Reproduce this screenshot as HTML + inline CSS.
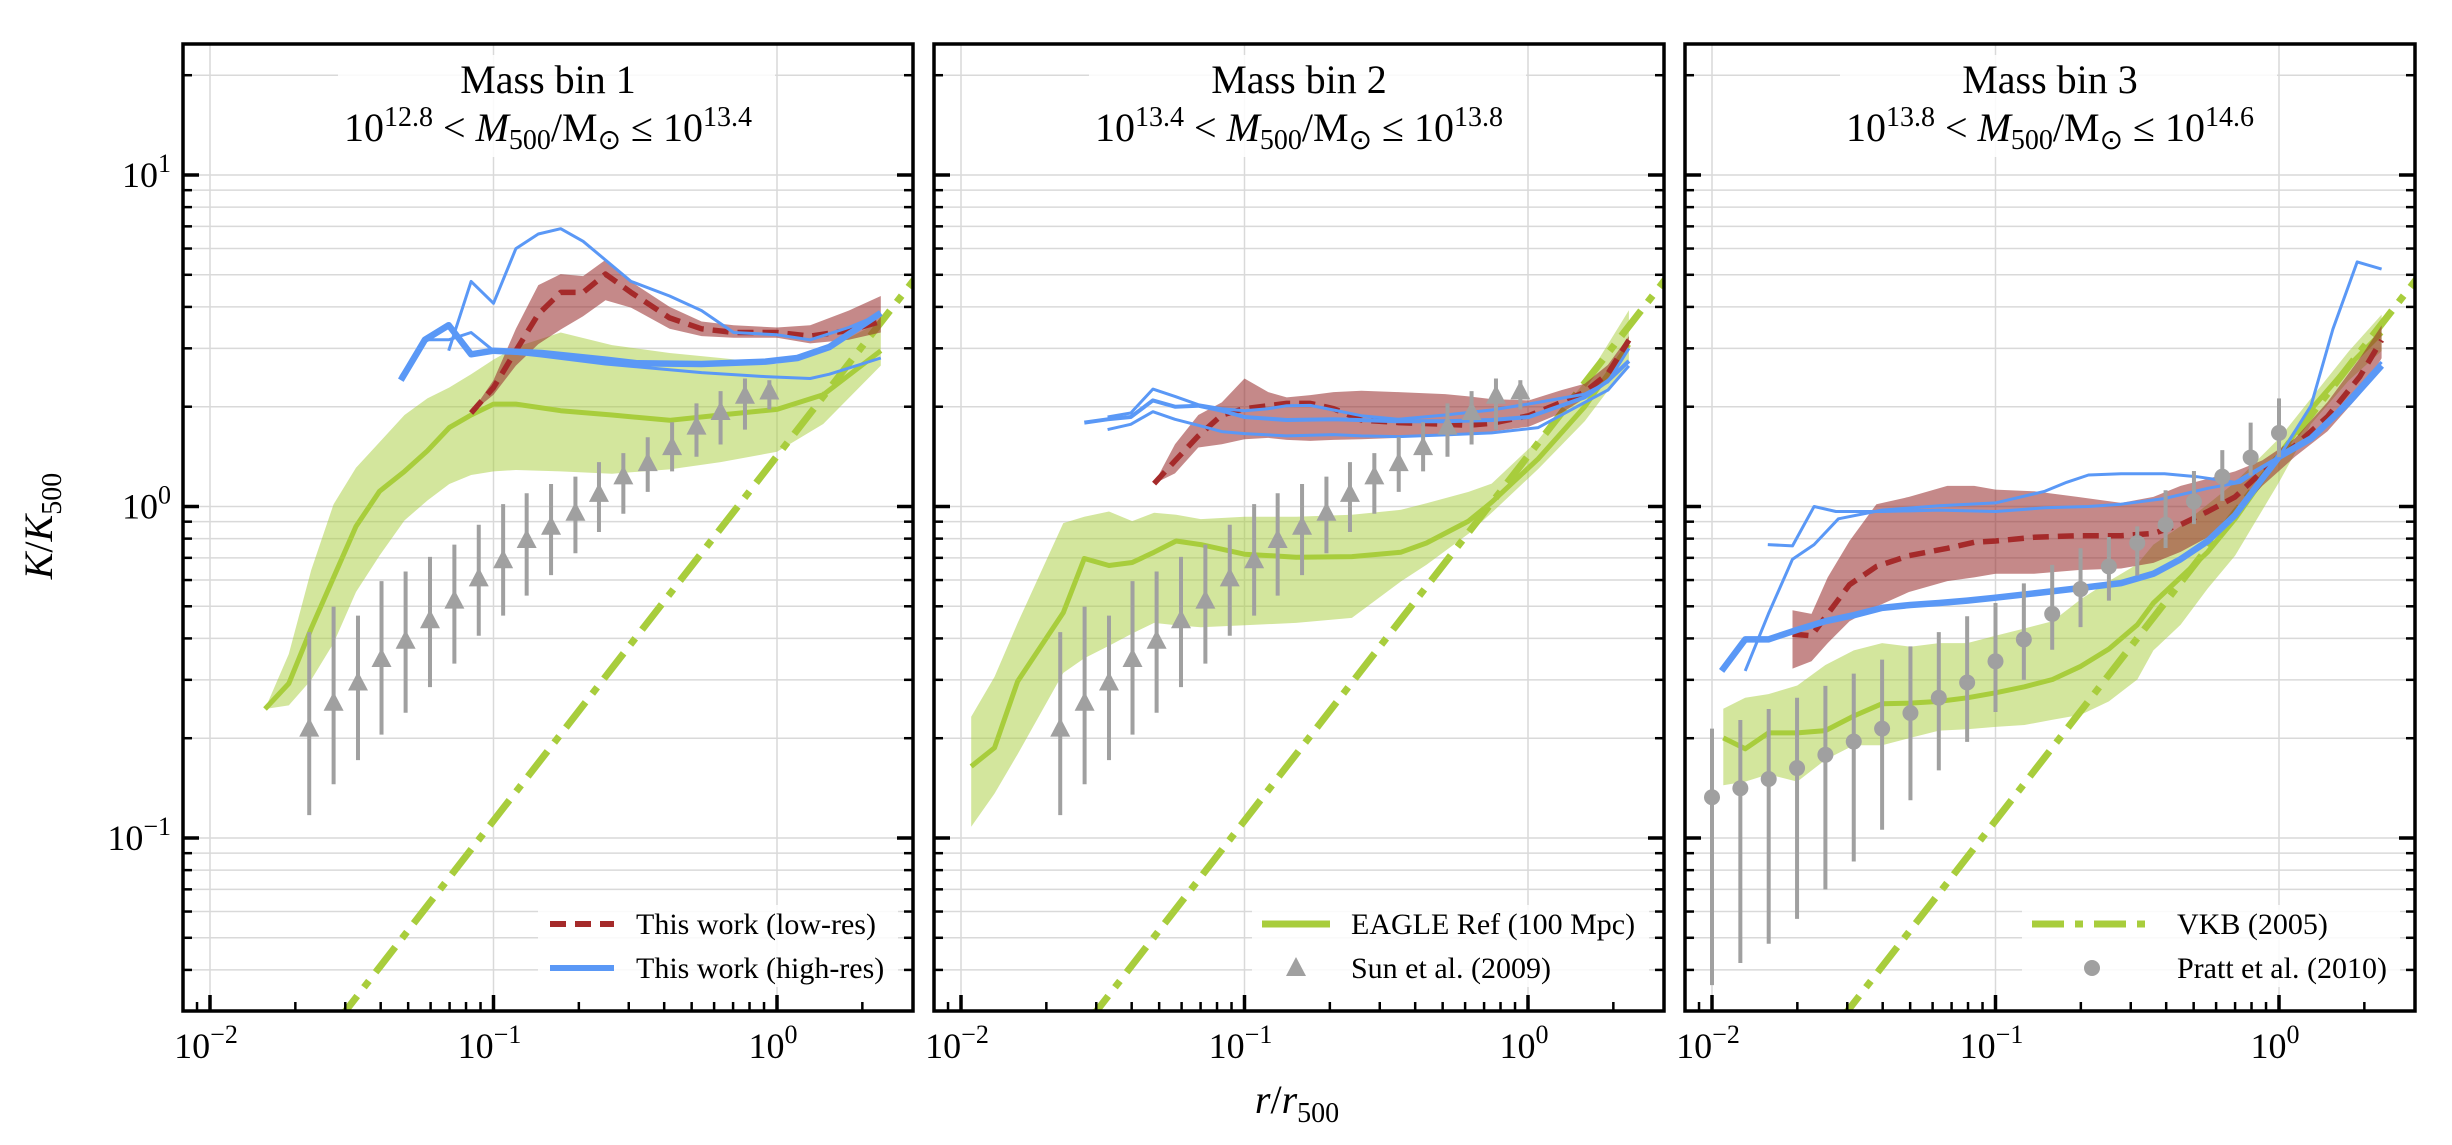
<!DOCTYPE html>
<html><head><meta charset="utf-8"><style>
html,body{margin:0;padding:0;background:#fff;width:2452px;height:1145px;overflow:hidden;}
svg{display:block;font-family:"Liberation Serif",serif;}
</style></head><body>
<svg id="fig" xmlns="http://www.w3.org/2000/svg" width="2452" height="1145" viewBox="0 0 2452 1145">
<rect width="2452" height="1145" fill="#fff"/>
<text transform="translate(52,526) rotate(-90)" text-anchor="middle" font-size="40"><tspan font-style="italic">K</tspan>/<tspan font-style="italic">K</tspan><tspan font-size="28" dy="9">500</tspan></text>
<text x="1297" y="1113" text-anchor="middle" font-size="40"><tspan font-style="italic">r</tspan>/<tspan font-style="italic">r</tspan><tspan font-size="28" dy="9">500</tspan></text>
</svg>
<script>
// ---------- data (log10 r/r500, log10 K/K500) ----------
const sunLogR=[-1.65,-1.564,-1.478,-1.395,-1.31,-1.224,-1.138,-1.052,-0.966,-0.883,-0.797,-0.711,-0.628,-0.542,-0.456,-0.37,-0.284,-0.199,-0.113,-0.027];
const sunLogK=[-0.673,-0.595,-0.534,-0.463,-0.408,-0.346,-0.287,-0.22,-0.165,-0.104,-0.064,-0.022,0.035,0.088,0.128,0.176,0.238,0.282,0.331,0.344];
const sunLogHi=[-0.379,-0.302,-0.329,-0.225,-0.196,-0.152,-0.115,-0.055,0.007,0.040,0.068,0.090,0.134,0.161,0.209,0.254,0.311,0.348,0.386,0.381];
const sunLogLo=[-0.931,-0.838,-0.765,-0.688,-0.622,-0.545,-0.474,-0.390,-0.329,-0.269,-0.207,-0.141,-0.077,-0.022,0.044,0.106,0.150,0.187,0.232,0.293];

const prattLogR=[-2,-1.9,-1.8,-1.7,-1.6,-1.5,-1.4,-1.3,-1.2,-1.1,-1,-0.9,-0.8,-0.7,-0.6,-0.5,-0.4,-0.3,-0.2,-0.1,0];
const prattLogK=[-0.877,-0.85,-0.822,-0.789,-0.749,-0.709,-0.67,-0.623,-0.577,-0.531,-0.467,-0.401,-0.324,-0.249,-0.181,-0.110,-0.055,0.015,0.09,0.148,0.222];
const prattLogHi=[-0.67,-0.644,-0.611,-0.577,-0.541,-0.504,-0.462,-0.422,-0.379,-0.331,-0.291,-0.232,-0.176,-0.126,-0.092,-0.06,0.049,0.107,0.170,0.253,0.326];
const prattLogLo=[-1.444,-1.377,-1.319,-1.244,-1.155,-1.071,-0.975,-0.886,-0.796,-0.71,-0.62,-0.523,-0.432,-0.364,-0.284,-0.208,-0.125,-0.053,0.017,0.093,0.149];

const vkbNorm=1.42, vkbSlope=1.1;

// panel 1
const p1GreenR=[-1.806,-1.722,-1.643,-1.564,-1.485,-1.402,-1.314,-1.233,-1.156,-1.079,-1.0,-0.921,-0.763,-0.582,-0.379,-0.199,0,0.163,0.366];
const p1GreenK=[-0.611,-0.534,-0.368,-0.214,-0.060,0.046,0.106,0.168,0.238,0.276,0.309,0.309,0.289,0.276,0.260,0.276,0.293,0.337,0.470];
const p1GreenHi=[-0.611,-0.445,-0.192,0.007,0.117,0.194,0.276,0.326,0.359,0.399,0.443,0.481,0.525,0.487,0.463,0.448,0.430,0.470,0.558];
const p1GreenLo=[-0.611,-0.600,-0.523,-0.412,-0.258,-0.148,-0.042,0.018,0.068,0.095,0.106,0.110,0.106,0.099,0.112,0.134,0.165,0.249,0.425];
const p1RedR=[-1.079,-1,-0.921,-0.842,-0.763,-0.684,-0.605,-0.515,-0.379,-0.266,-0.153,0,0.117,0.253,0.366];
const p1RedK=[0.282,0.359,0.470,0.580,0.646,0.646,0.701,0.646,0.569,0.536,0.525,0.525,0.514,0.531,0.558];
const p1RedHi=[0.282,0.381,0.536,0.668,0.701,0.695,0.744,0.678,0.602,0.558,0.547,0.540,0.547,0.591,0.635];
const p1RedLo=[0.282,0.337,0.425,0.490,0.534,0.574,0.622,0.600,0.536,0.514,0.509,0.509,0.492,0.503,0.525];
const p1BlueThickR=[-1.327,-1.242,-1.158,-1.079,-1,-0.831,-0.605,-0.492,-0.266,-0.041,0.072,0.185,0.366];
const p1BlueThickK=[0.381,0.503,0.547,0.459,0.470,0.463,0.443,0.432,0.430,0.437,0.448,0.481,0.584];
const p1BlueAR=[-1.158,-1.079,-1,-0.921,-0.842,-0.763,-0.684,-0.515,-0.379,-0.266,-0.153,0,0.117,0.253,0.366];
const p1BlueAK=[0.470,0.679,0.613,0.778,0.822,0.838,0.800,0.679,0.635,0.591,0.525,0.518,0.503,0.540,0.580];
const p1BlueBR=[-1.327,-1.242,-1.158,-1.079,-1,-0.831,-0.605,-0.266,-0.041,0.117,0.185,0.366];
const p1BlueBK=[0.392,0.503,0.503,0.525,0.470,0.454,0.430,0.404,0.392,0.386,0.399,0.448];

// panel 2
const p2GreenR=[-1.964,-1.882,-1.8,-1.639,-1.565,-1.478,-1.396,-1.319,-1.241,-1.154,-1.0,-0.818,-0.621,-0.448,-0.358,-0.210,-0.128,0.036,0.2,0.356];
const p2GreenK=[-0.784,-0.728,-0.527,-0.320,-0.157,-0.178,-0.169,-0.138,-0.104,-0.115,-0.144,-0.153,-0.151,-0.138,-0.110,-0.044,0.013,0.144,0.301,0.489];
const p2GreenHi=[-0.634,-0.514,-0.351,-0.050,-0.031,-0.015,-0.044,-0.019,-0.025,-0.038,-0.031,-0.031,-0.025,-0.010,0.010,0.044,0.069,0.201,0.376,0.592];
const p2GreenLo=[-0.966,-0.866,-0.747,-0.502,-0.458,-0.420,-0.383,-0.351,-0.358,-0.364,-0.358,-0.351,-0.336,-0.226,-0.176,-0.082,-0.019,0.113,0.257,0.433];
const p2RedR=[-1.319,-1.245,-1.163,-1.080,-1.0,-0.916,-0.851,-0.768,-0.686,-0.588,-0.456,-0.292,-0.210,-0.128,0.003,0.118,0.2,0.282,0.356];
const p2RedK=[0.069,0.138,0.213,0.276,0.295,0.304,0.311,0.311,0.295,0.261,0.253,0.248,0.245,0.251,0.274,0.314,0.345,0.401,0.502];
const p2RedHi=[0.069,0.188,0.276,0.314,0.386,0.345,0.329,0.336,0.345,0.349,0.345,0.339,0.332,0.324,0.320,0.351,0.370,0.427,0.514];
const p2RedLo=[0.069,0.100,0.178,0.188,0.203,0.207,0.201,0.198,0.201,0.203,0.207,0.216,0.216,0.226,0.241,0.282,0.326,0.383,0.483];
const p2BlueAR=[-1.483,-1.401,-1.323,-1.245,-1.163,-1.080,-1.0,-0.916,-0.851,-0.768,-0.686,-0.588,-0.456,-0.292,-0.128,0.036,0.2,0.282,0.356];
const p2BlueAK=[0.270,0.282,0.354,0.332,0.307,0.295,0.289,0.295,0.304,0.305,0.291,0.274,0.263,0.276,0.291,0.314,0.339,0.376,0.477];
const p2BlueThickR=[-1.565,-1.483,-1.401,-1.323,-1.245,-1.163,-1.080,-1.0,-0.851,-0.686,-0.456,-0.292,-0.128,0.003,0.2,0.282,0.356];
const p2BlueThickK=[0.253,0.263,0.270,0.320,0.301,0.304,0.289,0.270,0.261,0.263,0.257,0.257,0.261,0.270,0.329,0.379,0.439];
const p2BlueBR=[-1.483,-1.401,-1.323,-1.245,-1.163,-1.080,-1.0,-0.851,-0.686,-0.588,-0.456,-0.292,-0.128,0.036,0.2,0.282,0.356];
const p2BlueBK=[0.232,0.248,0.286,0.263,0.245,0.226,0.220,0.213,0.217,0.213,0.211,0.216,0.222,0.238,0.314,0.351,0.424];

// panel 3
const p3GreenR=[-1.960,-1.883,-1.801,-1.699,-1.600,-1.5,-1.400,-1.301,-1.199,-1.1,-1,-0.898,-0.799,-0.699,-0.600,-0.5,-0.443,-0.347,-0.251,-0.155,0,0.113,0.247,0.362];
const p3GreenK=[-0.698,-0.731,-0.683,-0.683,-0.676,-0.632,-0.595,-0.593,-0.588,-0.577,-0.562,-0.544,-0.522,-0.482,-0.430,-0.357,-0.291,-0.214,-0.137,-0.037,0.150,0.293,0.425,0.524];
const p3GreenHi=[-0.610,-0.577,-0.566,-0.540,-0.478,-0.434,-0.412,-0.423,-0.412,-0.412,-0.390,-0.368,-0.346,-0.280,-0.225,-0.174,-0.115,-0.059,0.007,0.073,0.205,0.326,0.469,0.579];
const p3GreenLo=[-0.841,-0.830,-0.808,-0.830,-0.764,-0.720,-0.720,-0.698,-0.676,-0.672,-0.665,-0.659,-0.643,-0.628,-0.588,-0.522,-0.434,-0.357,-0.247,-0.148,0.073,0.249,0.381,0.469];
const p3RedR=[-1.716,-1.649,-1.592,-1.515,-1.420,-1.305,-1.170,-1.075,-1,-0.864,-0.711,-0.557,-0.443,-0.347,-0.251,-0.155,-0.059,0.056,0.171,0.285,0.362];
const p3RedK=[-0.385,-0.390,-0.324,-0.236,-0.181,-0.148,-0.126,-0.108,-0.104,-0.093,-0.088,-0.088,-0.081,-0.055,-0.015,0.029,0.106,0.183,0.271,0.392,0.502];
const p3RedHi=[-0.313,-0.324,-0.214,-0.104,0.007,0.029,0.062,0.062,0.051,0.046,0.029,0.011,0.029,0.062,0.084,0.106,0.139,0.205,0.315,0.447,0.546];
const p3RedLo=[-0.489,-0.467,-0.412,-0.346,-0.302,-0.258,-0.225,-0.214,-0.203,-0.203,-0.192,-0.187,-0.170,-0.137,-0.093,-0.026,0.062,0.150,0.227,0.337,0.447];
const p3BlueThickR=[-1.966,-1.883,-1.801,-1.699,-1.600,-1.5,-1.4,-1.301,-1.199,-1.1,-1,-0.864,-0.711,-0.557,-0.443,-0.347,-0.251,-0.155,-0.059,0,0.113,0.247,0.362];
const p3BlueThickK=[-0.496,-0.401,-0.401,-0.372,-0.346,-0.328,-0.306,-0.297,-0.291,-0.284,-0.275,-0.262,-0.247,-0.231,-0.203,-0.159,-0.104,-0.026,0.084,0.150,0.205,0.315,0.425];
const p3BlueAR=[-1.803,-1.716,-1.640,-1.563,-1.4,-1.199,-1,-0.826,-0.672,-0.557,-0.404,-0.251,-0.136,0,0.113,0.190,0.276,0.362];
const p3BlueAK=[-0.115,-0.119,0,-0.015,-0.015,-0.011,-0.015,-0.004,0,0.007,0.024,0.055,0.073,0.150,0.304,0.535,0.738,0.716];
const p3BlueBR=[-1.883,-1.801,-1.716,-1.640,-1.554,-1.4,-1.199,-1,-0.826,-0.749,-0.672,-0.557,-0.404,-0.289,-0.155,0,0.113,0.247,0.362];
const p3BlueBK=[-0.496,-0.324,-0.159,-0.115,-0.037,-0.011,0.002,0.011,0.046,0.073,0.095,0.099,0.099,0.090,0.073,0.150,0.205,0.326,0.436];

const xTickLabels=["−2","−1","0"];
const yTickLabels=["−1","0","1"];

// ---------- drawing ----------
const NS="http://www.w3.org/2000/svg";
const svg=document.getElementById("fig");
const W=730, TOP=44, BOT=1011;
const GREEN="#a8cd3c", RED="#a52a2a", BLUE="#5a98f6", GREY="#a0a0a0";
function el(tag,attrs,parent){const e=document.createElementNS(NS,tag);for(const k in attrs)e.setAttribute(k,attrs[k]);(parent||svg).appendChild(e);return e;}
function yPx(lk){return 175+(1-lk)*331.5;}

function drawPanel(idx,x0,d){
  const xPx=lr=>x0+27+(lr+2)*283.5;
  const g=el("g",{});
  
  
  const cp=el("clipPath",{id:"clip"+idx},g);
  el("rect",{x:x0,y:TOP,width:W,height:BOT-TOP},cp);
  const inner=el("g",{"clip-path":"url(#clip"+idx+")"},g);
  const grid=el("g",{stroke:"#d9d9d9","stroke-width":1.5},inner);
  
  
  for(let dec=-2;dec<=1;dec++){for(let m=1;m<10;m++){const lk=dec+Math.log10(m);const y=yPx(lk);if(y>TOP&&y<BOT)el("line",{x1:x0,x2:x0+W,y1:y,y2:y},grid);}}
  for(let dec=-2;dec<=0;dec++){const x=xPx(dec);el("line",{x1:x,x2:x,y1:TOP,y2:BOT},grid);}
  function band(R,lo,hi,fill,name){
    let s="";R.forEach((r,i)=>{s+=(i?"L":"M")+xPx(r).toFixed(1)+","+yPx(hi[i]).toFixed(1);});
    for(let i=R.length-1;i>=0;i--)s+="L"+xPx(R[i]).toFixed(1)+","+yPx(lo[i]).toFixed(1);
    const p=el("path",{d:s+"Z",fill:fill},inner);
    
    
  }
  function line(R,K,stroke,w,dash,name){
    const s=R.map((r,i)=>(i?"L":"M")+xPx(r).toFixed(1)+","+yPx(K[i]).toFixed(1)).join("");
    const a={d:s,fill:"none",stroke:stroke,"stroke-width":w,"stroke-linejoin":"round"};
    if(dash)a["stroke-dasharray"]=dash;
    const p=el("path",a,inner);
    
    
  }
  band(d.gR,d.gLo,d.gHi,"rgba(168,205,60,0.5)","eagle-band");
  line(d.gR,d.gK,GREEN,5,null,"eagle-median-line");
  const lr1=-1.55, lr2=0.55;
  const vk=el("line",{x1:xPx(lr1),y1:yPx(Math.log10(vkbNorm)+vkbSlope*lr1),x2:xPx(lr2),y2:yPx(Math.log10(vkbNorm)+vkbSlope*lr2),stroke:GREEN,"stroke-width":7,"stroke-dasharray":"32,11,8,11"},inner);
  
  
  band(d.rR,d.rLo,d.rHi,"rgba(150,40,40,0.55)","lowres-band");
  line(d.rR,d.rK,RED,5.5,"16,9","lowres-median-line");
  line(d.bAR,d.bAK,BLUE,3,null,"highres-line-a");
  line(d.bBR,d.bBK,BLUE,3,null,"highres-line-b");
  line(d.bTR,d.bTK,BLUE,d.thickW,null,"highres-median-line");
  const obs=el("g",{},inner);
  
  
  d.oR.forEach((r,i)=>{
    const x=xPx(r);
    const eb=el("line",{x1:x,x2:x,y1:yPx(d.oHi[i]),y2:yPx(d.oLo[i]),stroke:GREY,"stroke-width":4},obs);
    
    
    const y=yPx(d.oK[i]);
    let m;
    if(d.tri){m=el("path",{d:`M${x},${y-12}L${x+10},${y+7}L${x-10},${y+7}Z`,fill:GREY},obs);}
    else{m=el("circle",{cx:x,cy:y,r:8,fill:GREY},obs);}
    
    
  });
  const tb=el("rect",{x:x0+155,y:55,width:437,height:102,fill:"#fff","fill-opacity":0.85},g);
  
  
  const t1=el("text",{x:x0+365,y:93,"text-anchor":"middle","font-size":40},g);
  t1.textContent="Mass bin "+idx;
  
  
  const t2=el("text",{x:x0+365,y:141,"text-anchor":"middle","font-size":40},g);
  
  
  t2.innerHTML=`10<tspan font-size="28" dy="-15">${d.m1}</tspan><tspan dy="15"> &lt; </tspan><tspan font-style="italic">M</tspan><tspan font-size="28" dy="8">500</tspan><tspan dy="-8">/M</tspan><tspan font-size="28" dy="8">⊙</tspan><tspan dy="-8"> ≤ 10</tspan><tspan font-size="28" dy="-15">${d.m2}</tspan>`;
  const lg=el("g",{},g);
  
  
  el("rect",{x:x0+d.lgBox,y:905,width:715-d.lgBox,height:82,fill:"#fff","fill-opacity":0.85},lg);
  d.leg.forEach((e,i)=>{
    const y=i?968:924;
    const en=el("g",{},lg);
    
    
    if(e.type==="line"){const a={x1:x0+d.h1,x2:x0+d.h2,y1:y,y2:y,stroke:e.c,"stroke-width":e.w};if(e.dash)a["stroke-dasharray"]=e.dash;el("line",a,en);}
    else if(e.type==="tri"){const cx=x0+(d.h1+d.h2)/2;el("path",{d:`M${cx},${y-11}L${cx+10},${y+8}L${cx-10},${y+8}Z`,fill:GREY},en);}
    else{el("circle",{cx:x0+(d.h1+d.h2)/2,cy:y,r:8,fill:GREY},en);}
    const tx=el("text",{x:x0+d.tx,y:y+10,"font-size":30},en);
    tx.textContent=e.label;
  });
  const fr=el("rect",{x:x0,y:TOP,width:W,height:BOT-TOP,fill:"none",stroke:"#000","stroke-width":3.5},g);
  
  
  const tk=el("g",{stroke:"#000"},g);
  
  
  for(let dec=-3;dec<=1;dec++)for(let m=1;m<10;m++){
    const lr=dec+Math.log10(m);const x=xPx(lr);
    if(x>x0+2&&x<x0+W-2){const L=m===1?16:9;el("line",{x1:x,x2:x,y1:BOT,y2:BOT-L,"stroke-width":m===1?3.5:2.5},tk);}
    const y=yPx(lr);
    if(y>TOP+2&&y<BOT-2){const L=m===1?16:9;el("line",{x1:x0,x2:x0+L,y1:y,y2:y,"stroke-width":m===1?3.5:2.5},tk);el("line",{x1:x0+W,x2:x0+W-L,y1:y,y2:y,"stroke-width":m===1?3.5:2.5},tk);}
  }
  [-2,-1,0].forEach((dec,i)=>{
    const t=el("text",{x:xPx(dec)-4,y:1058,"text-anchor":"middle","font-size":36},g);
    
    
    t.innerHTML=`10<tspan font-size="26" dy="-15">${xTickLabels[i]}</tspan>`;
  });
  if(idx===1){
    [-1,0,1].forEach((dec,i)=>{
      const t=el("text",{x:x0-12,y:yPx(dec)+12,"text-anchor":"end","font-size":36},g);
      
      
      t.innerHTML=`10<tspan font-size="26" dy="-15">${yTickLabels[i]}</tspan>`;
    });
  }
}

drawPanel(1,183,{gR:p1GreenR,gK:p1GreenK,gLo:p1GreenLo,gHi:p1GreenHi,rR:p1RedR,rK:p1RedK,rLo:p1RedLo,rHi:p1RedHi,
  bTR:p1BlueThickR,bTK:p1BlueThickK,bAR:p1BlueAR,bAK:p1BlueAK,bBR:p1BlueBR,bBK:p1BlueBK,thickW:6.5,
  oR:sunLogR,oK:sunLogK,oLo:sunLogLo,oHi:sunLogHi,tri:true,obsName:"sun-2009-points",m1:"12.8",m2:"13.4",
  lgBox:355,h1:367,h2:431,tx:453,
  leg:[{type:"line",c:RED,w:6,dash:"16,9",label:"This work (low-res)"},{type:"line",c:BLUE,w:6,label:"This work (high-res)"}]});
drawPanel(2,934,{gR:p2GreenR,gK:p2GreenK,gLo:p2GreenLo,gHi:p2GreenHi,rR:p2RedR,rK:p2RedK,rLo:p2RedLo,rHi:p2RedHi,
  bTR:p2BlueThickR,bTK:p2BlueThickK,bAR:p2BlueAR,bAK:p2BlueAK,bBR:p2BlueBR,bBK:p2BlueBK,thickW:4,
  oR:sunLogR,oK:sunLogK,oLo:sunLogLo,oHi:sunLogHi,tri:true,obsName:"sun-2009-points",m1:"13.4",m2:"13.8",
  lgBox:318,h1:328,h2:396,tx:417,
  leg:[{type:"line",c:GREEN,w:7,label:"EAGLE Ref (100 Mpc)"},{type:"tri",label:"Sun et al. (2009)"}]});
drawPanel(3,1685,{gR:p3GreenR,gK:p3GreenK,gLo:p3GreenLo,gHi:p3GreenHi,rR:p3RedR,rK:p3RedK,rLo:p3RedLo,rHi:p3RedHi,
  bTR:p3BlueThickR,bTK:p3BlueThickK,bAR:p3BlueAR,bAK:p3BlueAK,bBR:p3BlueBR,bBK:p3BlueBK,thickW:6.5,
  oR:prattLogR,oK:prattLogK,oLo:prattLogLo,oHi:prattLogHi,tri:false,obsName:"pratt-2010-points",m1:"13.8",m2:"14.6",
  lgBox:337,h1:347,h2:467,tx:492,
  leg:[{type:"line",c:GREEN,w:7,dash:"32,11,8,11",label:"VKB (2005)"},{type:"circle",label:"Pratt et al. (2010)"}]});
</script>
</body></html>
